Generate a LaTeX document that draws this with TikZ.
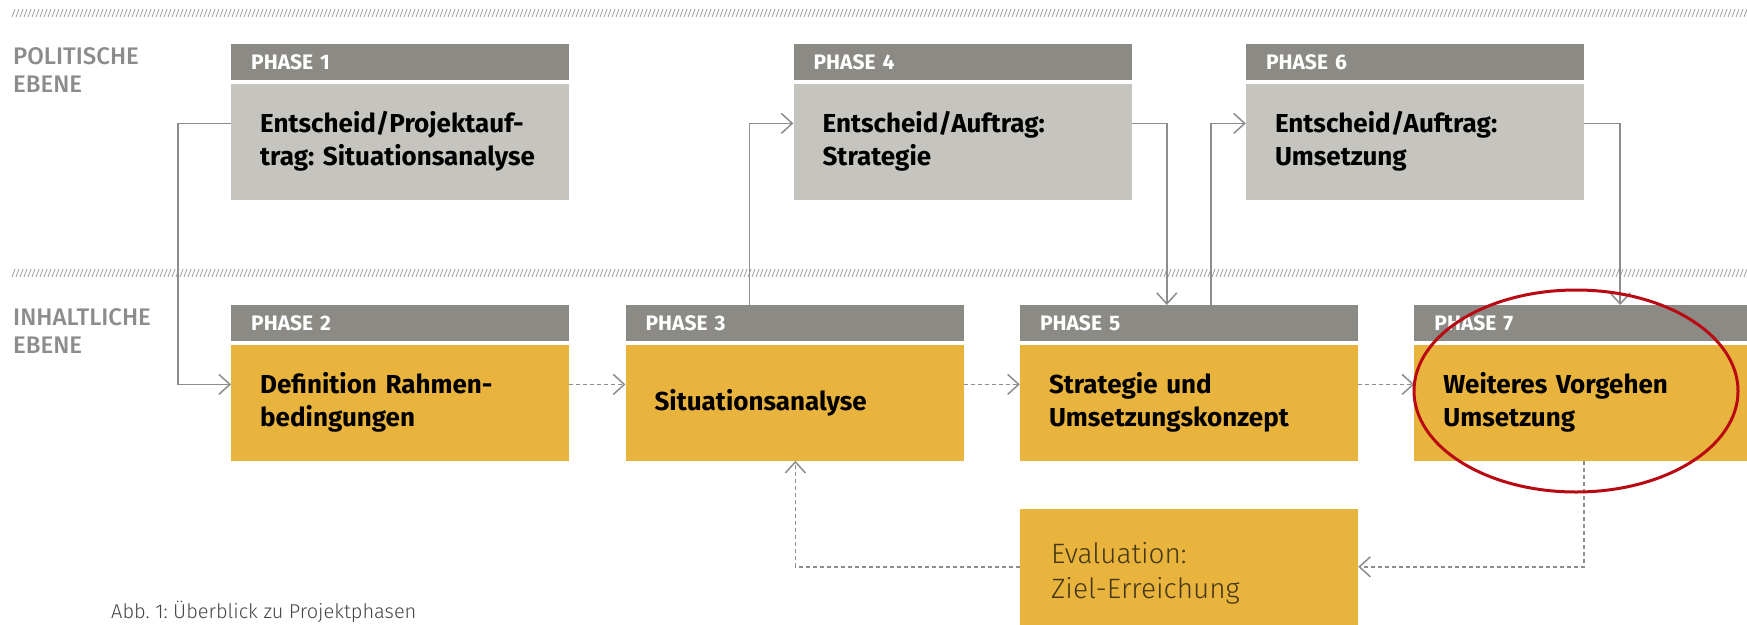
\documentclass[tikz,border=0pt]{standalone}
\usepackage{fontspec}
\setmainfont{Fira Sans}
\newfontfamily\lightfont{Fira Sans Light}
\newfontfamily\mediumfont{Fira Sans Medium}
\usepackage{tikz}
\usepackage{xcolor}
\usetikzlibrary{arrows.meta,positioning}
\definecolor{headgrey}{RGB}{140,138,133}
\definecolor{polgrey}{RGB}{198,196,191}
\definecolor{phaseyellow}{RGB}{232,180,62}
\definecolor{linegrey}{RGB}{141,141,141}
\definecolor{labelgrey}{RGB}{140,140,140}
\definecolor{evalbrown}{RGB}{70,56,20}
\definecolor{captiongrey}{RGB}{70,70,70}
\definecolor{markred}{RGB}{185,10,20}
\frenchspacing

\begin{document}
\begin{tikzpicture}[x=1pt, y=-1pt, node distance=56pt,
    >={Straight Barb[length=11pt,width=20pt]},
    head/.style={fill=headgrey, text=white, font=\fontsize{21}{24}\selectfont\bfseries,
      minimum height=36pt, text width=298pt, inner xsep=20pt, inner ysep=0pt, align=left},
    polbox/.style={fill=polgrey, text=black, font=\fontsize{26}{33}\selectfont\bfseries,
      minimum height=116pt, text width=280pt, inner xsep=29pt, inner ysep=0pt, align=left},
    inhbox/.style={polbox, fill=phaseyellow},
    conn/.style={draw=linegrey, line width=1.5pt},
    dconn/.style={conn, dash pattern=on 4pt off 3pt},
    hatch/.style={draw=gray!75, line width=0.8pt},
    ebene/.style={text=labelgrey, font=\mediumfont\fontsize{24}{28}\selectfont, align=left,
      inner sep=0pt, anchor=west}]
        \useasboundingbox (0,0) rectangle (1747,624);
        \fill [white] (0,0) rectangle (1747,624);

        % Hatched bands
        \foreach \x in {12,16,...,1744} {
            \draw [hatch] (\x,17) -- ++(3,-8);
            \draw [hatch] (\x,277) -- ++(3,-8);
        }

        % Levels
        \node [ebene] (politisch) at (13,70) {POLITISCHE\\EBENE};
        \node [ebene] (inhaltlich) at (13,331) {INHALTLICHE\\EBENE};

        % Political level
        \node [head, anchor=north west] (head1) at (231,44) {PHASE 1};
        \node [polbox, below=3pt of head1] (phase1) {Entscheid/Projektauf-\\trag: Situationsanalyse};
        \node [head, right=224pt of head1] (head4) {PHASE 4};
        \node [polbox, below=3pt of head4] (phase4) {Entscheid/Auftrag:\\Strategie};
        \node [head, right=114pt of head4] (head6) {PHASE 6};
        \node [polbox, below=3pt of head6] (phase6) {Entscheid/Auftrag:\\Umsetzung};

        % Content level
        \node [head, anchor=north west] (head2) at (231,305) {PHASE 2};
        \node [inhbox, below=3pt of head2] (phase2) {Definition Rahmen-\\bedingungen};
        \node [head, right=of head2] (head3) {PHASE 3};
        \node [inhbox, below=3pt of head3] (phase3) {Situationsanalyse};
        \node [head, right=of head3] (head5) {PHASE 5};
        \node [inhbox, below=3pt of head5] (phase5) {Strategie und\\Umsetzungskonzept};
        \node [head, right=of head5] (head7) {PHASE 7};
        \node [inhbox, below=3pt of head7] (phase7) {Weiteres Vorgehen\\Umsetzung};

        % Evaluation
        \node [inhbox, below=48pt of phase5, minimum height=128pt, inner xsep=31pt, text width=276pt,
          text=evalbrown, font=\lightfont\fontsize{28}{35}\selectfont] (eval) {Evaluation:\\Ziel-Erreichung};

        % Arrows
        \draw [conn, ->] ([yshift=-40pt]phase1.north west) -- ++(-53,0) |- ([yshift=-40pt]phase2.north west);
        \draw [conn, ->] ([xshift=124pt]head3.north west) |- ([yshift=-40pt]phase4.north west);
        \draw [conn, ->] ([yshift=-40pt]phase4.north east) -| ([xshift=147pt]head5.north west);
        \draw [conn, ->] ([xshift=191pt]head5.north west) |- ([yshift=-40pt]phase6.north west);
        \draw [conn, ->] ([yshift=-40pt]phase6.north east) -| ([xshift=206pt]head7.north west);
        \draw [dconn, ->] ([yshift=-40pt]phase2.north east) -- ([yshift=-40pt]phase3.north west);
        \draw [dconn, ->] ([yshift=-40pt]phase3.north east) -- ([yshift=-40pt]phase5.north west);
        \draw [dconn, ->] ([yshift=-40pt]phase5.north east) -- ([yshift=-40pt]phase7.north west);
        \draw [dconn, ->] ([xshift=170pt]phase7.south west) |- ([yshift=-58pt]eval.north east);
        \draw [dconn, ->] ([yshift=-58pt]eval.north west) -| ([xshift=170pt]phase3.south west);

        % Highlight
        \draw [markred, line width=3pt] (1576,391) ellipse [x radius=162pt, y radius=101pt];

        % Caption
        \node [anchor=west, inner sep=0pt, text=captiongrey, font=\lightfont\fontsize{20}{22}\selectfont]
          (caption) at (111,612) {Abb. 1: Überblick zu Projektphasen};
    \end{tikzpicture}
\end{document}
